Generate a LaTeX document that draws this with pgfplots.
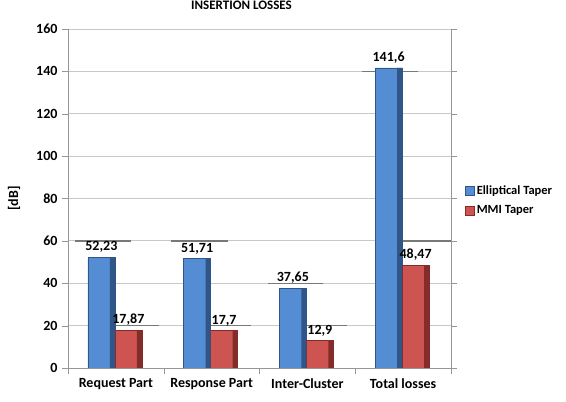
\documentclass[border=0pt]{standalone}
\usepackage{fontspec}
\setmainfont{Carlito}
\usepackage{pgfplots}
\pgfplotsset{compat=1.18}
\definecolor{bluef}{RGB}{84,141,212}
\definecolor{blues}{RGB}{48,86,136}
\definecolor{redf}{RGB}{206,84,82}
\definecolor{reds}{RGB}{132,44,42}
\definecolor{gridc}{RGB}{200,200,200}
\definecolor{axc}{RGB}{150,150,150}
\definecolor{segc}{RGB}{120,120,120}
\newcommand\lbl{\fontsize{14}{16}\selectfont\bfseries}
\begin{document}
\begin{tikzpicture}
\useasboundingbox (-68pt,-34pt) rectangle (498pt,368pt);
\begin{axis}[
  at={(0,0)}, anchor=south west,
  scale only axis, width=383pt, height=339pt,
  xmin=0, xmax=4, ymin=0, ymax=160,
  axis x line*=bottom, axis y line*=box,
  axis line style={axc},
  ytick={0,20,...,160},
  xtick={0.5,1.5,2.5,3.5},
  xticklabels={Request Part, Response Part, Inter-Cluster, Total losses},
  minor xtick={0,1,2,3,4},
  major x tick style={draw=none},
  minor x tick style={axc},
  y tick style={axc},
  tick align=outside,
  major tick length=6pt, minor tick length=6pt,
  ymajorgrids, major grid style={gridc, line width=0.8pt},
  /pgf/number format/assume math mode=true,
  ticklabel style={font=\lbl},
  yticklabel style={xshift=-1pt},
  xticklabel style={yshift=-1pt},
  ylabel={[dB]}, ylabel style={font=\lbl, at={(axis description cs:-0.141,0.5)}, anchor=center},
  title={INSERTION LOSSES}, title style={font=\fontsize{13}{15}\selectfont\bfseries, at={(axis description cs:0.453,1.041)}, anchor=base},
  ybar, bar width=27pt,
  legend style={draw=none, fill=none, at={(axis description cs:1.037,0.545)}, anchor=north west, font=\fontsize{12.5}{15}\selectfont\bfseries, row sep=6pt, inner sep=0pt},
  legend cell align=left,
  legend image code/.code={\fill[#1] (0pt,-4.5pt) rectangle (9pt,4.5pt);},
  nodes near coords, point meta=explicit symbolic,
  nodes near coords style={font=\lbl, text=black, anchor=south, yshift=1pt},
]
\draw[segc, line width=1.4pt] (axis cs:0.073,60) -- (axis cs:0.658,60);
\draw[segc, line width=1.4pt] (axis cs:1.076,60) -- (axis cs:1.671,60);
\draw[segc, line width=1.4pt] (axis cs:2.089,40) -- (axis cs:2.663,40);
\draw[segc, line width=1.4pt] (axis cs:3.07,140) -- (axis cs:3.655,140);
\draw[segc, line width=1.4pt] (axis cs:0.439,20) -- (axis cs:0.950,20);
\draw[segc, line width=1.4pt] (axis cs:1.483,20) -- (axis cs:1.911,20);
\draw[segc, line width=1.4pt] (axis cs:2.423,20) -- (axis cs:2.914,20);
\draw[segc, line width=1.4pt] (axis cs:3.467,60) -- (axis cs:4,60);
\addplot[fill=bluef, draw=blues, line width=0.4pt, bar shift=-14.5pt] table[meta=l] {
x y l
0.5 52.23 52,23
1.5 51.71 51,71
2.5 37.65 37,65
3.5 141.6 141,6
};
\addlegendentry{Elliptical Taper}
\addplot[fill=redf, draw=reds, line width=0.4pt, bar shift=12.5pt] table[meta=l] {
x y l
0.5 17.87 17,87
1.5 17.7 17,7
2.5 12.9 12,9
3.5 48.47 48,47
};
\addlegendentry{MMI Taper}
\addplot[fill=blues, draw=none, bar width=5pt, bar shift=-3.5pt, forget plot, nodes near coords={}] table {
x y
0.5 52.23
1.5 51.71
2.5 37.65
3.5 141.6
};
\addplot[fill=reds, draw=none, bar width=5pt, bar shift=23.5pt, forget plot, nodes near coords={}] table {
x y
0.5 17.87
1.5 17.7
2.5 12.9
3.5 48.47
};
\end{axis}
\end{tikzpicture}
\end{document}
